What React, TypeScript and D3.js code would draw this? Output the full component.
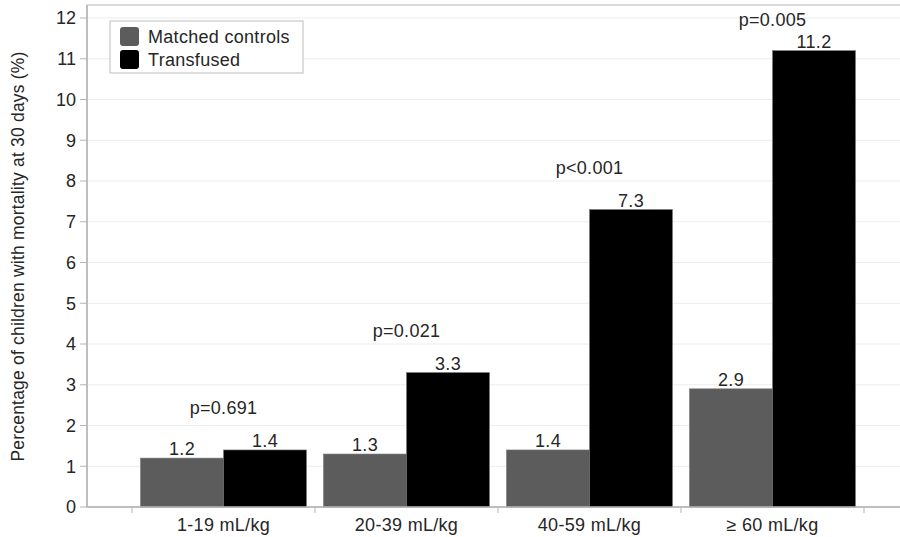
import React, { useEffect, useRef } from "react";
import * as d3 from "d3";

const categories = ["1-19 mL/kg", "20-39 mL/kg", "40-59 mL/kg", "≥ 60 mL/kg"];
const seriesNames = ["Matched controls", "Transfused"];
const controls = [1.2, 1.3, 1.4, 2.9];
const transfused = [1.4, 3.3, 7.3, 11.2];
const pValues = ["p=0.691", "p=0.021", "p<0.001", "p=0.005"];
const yTicks = [0, 1, 2, 3, 4, 5, 6, 7, 8, 9, 10, 11, 12];
const colors = ["#5c5c5c", "#000000"];

export default function App() {
  const ref = useRef<SVGSVGElement>(null);

  useEffect(() => {
    const svg = d3.select(ref.current);
    svg.selectAll("*").remove();

    const W = 900, H = 537;
    const frame = { left: 87, top: 5, right: 910, bottom: 507 };
    const font = "'Liberation Sans', Arial, sans-serif";
    const textColor = "#262626";
    const fs = 18;
    const ls = "0.3px";

    const y = d3.scaleLinear().domain([0, 12]).range([507, 18]);
    const x0 = d3.scaleBand().domain(categories).range([132, 864]).padding(0);
    const x1 = d3
      .scaleBand()
      .domain(seriesNames)
      .range([8.5, x0.bandwidth() - 8.5])
      .padding(0);

    svg.attr("width", W).attr("height", H);

    // frame
    svg
      .append("rect")
      .attr("x", frame.left)
      .attr("y", frame.top)
      .attr("width", frame.right - frame.left)
      .attr("height", frame.bottom - frame.top)
      .attr("fill", "#fff")
      .attr("stroke", "#cfcfcf")
      .attr("stroke-width", 1.5);

    // grid
    svg
      .append("g")
      .selectAll("line")
      .data(yTicks.filter((t) => t > 0))
      .join("line")
      .attr("x1", frame.left)
      .attr("x2", frame.right)
      .attr("y1", (d) => y(d))
      .attr("y2", (d) => y(d))
      .attr("stroke", "#ececec")
      .attr("stroke-width", 1);

    // y axis
    const yAxis = svg.append("g").attr("transform", `translate(${frame.left},0)`);
    yAxis
      .append("line")
      .attr("y1", frame.top)
      .attr("y2", frame.bottom)
      .attr("stroke", "#b5b5b5")
      .attr("stroke-width", 1.5);
    yAxis
      .selectAll(".ytick")
      .data(yTicks)
      .join("line")
      .attr("class", "ytick")
      .attr("x1", -7)
      .attr("x2", 0)
      .attr("y1", (d) => y(d))
      .attr("y2", (d) => y(d))
      .attr("stroke", "#b5b5b5");
    yAxis
      .selectAll(".ylab")
      .data(yTicks)
      .join("text")
      .attr("class", "ylab")
      .attr("x", -11)
      .attr("y", (d) => y(d))
      .attr("dy", "0.35em")
      .attr("text-anchor", "end")
      .attr("font-family", font)
      .attr("font-size", fs)
      .attr("fill", textColor)
      .text((d) => d);

    svg
      .append("text")
      .attr("transform", `translate(24,${(y(0) + y(12)) / 2 - 6}) rotate(-90)`)
      .attr("text-anchor", "middle")
      .attr("font-family", font)
      .attr("font-size", 17.5)
      .attr("letter-spacing", "0.2px")
      .attr("fill", textColor)
      .text("Percentage of children with mortality at 30 days (%)");

    // bars
    const rows = categories.map((c, i) => ({
      cat: c,
      vals: [controls[i], transfused[i]],
      p: pValues[i],
    }));

    const groups = svg
      .append("g")
      .selectAll("g")
      .data(rows)
      .join("g")
      .attr("transform", (d) => `translate(${x0(d.cat)},0)`);

    groups
      .selectAll("rect")
      .data((d) => d.vals.map((v, j) => ({ name: seriesNames[j], v, j })))
      .join("rect")
      .attr("x", (d) => x1(d.name)!)
      .attr("y", (d) => y(d.v))
      .attr("width", x1.bandwidth())
      .attr("height", (d) => y(0) - y(d.v))
      .attr("fill", (d) => colors[d.j])
      .attr("stroke", "#7a7a7a")
      .attr("stroke-width", 0.6);

    groups
      .selectAll(".val")
      .data((d) => d.vals.map((v, j) => ({ name: seriesNames[j], v })))
      .join("text")
      .attr("class", "val")
      .attr("x", (d) => x1(d.name)! + x1.bandwidth() / 2)
      .attr("y", (d) => y(d.v) - 3)
      .attr("text-anchor", "middle")
      .attr("font-family", font)
      .attr("font-size", fs)
      .attr("letter-spacing", ls)
      .attr("fill", textColor)
      .text((d) => d.v.toFixed(1));

    groups
      .append("text")
      .attr("x", x0.bandwidth() / 2)
      .attr("y", (d) => Math.max(y(d3.max(d.vals)!) - 36, frame.top + 21))
      .attr("text-anchor", "middle")
      .attr("font-family", font)
      .attr("font-size", fs)
      .attr("letter-spacing", ls)
      .attr("fill", textColor)
      .text((d) => d.p);

    // x axis
    const xAxis = svg.append("g").attr("transform", `translate(0,${frame.bottom})`);
    xAxis
      .append("line")
      .attr("x1", frame.left)
      .attr("x2", frame.right)
      .attr("stroke", "#b5b5b5")
      .attr("stroke-width", 1.5);
    const bounds = [...categories.map((c) => x0(c)!), x0.range()[1]];
    xAxis
      .selectAll(".xtick")
      .data(bounds)
      .join("line")
      .attr("class", "xtick")
      .attr("x1", (d) => d)
      .attr("x2", (d) => d)
      .attr("y1", 0)
      .attr("y2", 6)
      .attr("stroke", "#b5b5b5");
    xAxis
      .selectAll(".xlab")
      .data(categories)
      .join("text")
      .attr("class", "xlab")
      .attr("x", (d) => x0(d)! + x0.bandwidth() / 2)
      .attr("y", 24)
      .attr("text-anchor", "middle")
      .attr("font-family", font)
      .attr("font-size", fs)
      .attr("letter-spacing", ls)
      .attr("fill", textColor)
      .text((d) => d);

    // legend
    const lg = svg.append("g").attr("transform", "translate(110,21)");
    lg.append("rect")
      .attr("width", 193)
      .attr("height", 52)
      .attr("fill", "#fff")
      .attr("stroke", "#bdbdbd");
    seriesNames.forEach((name, i) => {
      lg.append("rect")
        .attr("x", 10)
        .attr("y", 6 + i * 23)
        .attr("width", 19)
        .attr("height", 19)
        .attr("rx", 3)
        .attr("fill", colors[i]);
      lg.append("text")
        .attr("x", 38)
        .attr("y", 15.5 + i * 23)
        .attr("dy", "0.35em")
        .attr("font-family", font)
        .attr("font-size", fs)
        .attr("letter-spacing", ls)
        .attr("fill", textColor)
        .text(name);
    });
  }, []);

  return (
    <svg
      ref={ref}
      style={{ position: "absolute", left: 0, top: 0, display: "block" }}
    />
  );
}
